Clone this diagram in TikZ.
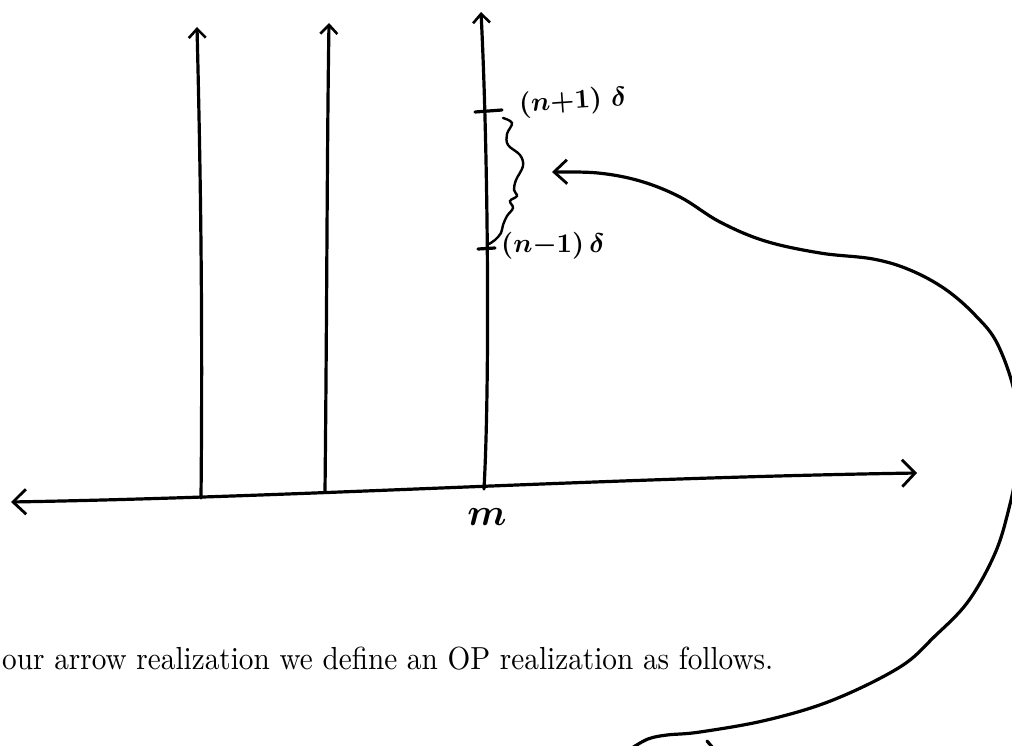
\documentclass[tikz,border=0pt]{standalone}
\usetikzlibrary{arrows.meta}
\begin{document}
\begin{tikzpicture}[x=1pt,y=-1pt,
  ink/.style={line width=3.2pt,line cap=round,line join=round},
  smalltip/.style={-{Straight Barb[length=9pt,width=17pt,line width=2.6pt]}},
  bigtip/.style={{Straight Barb[length=13pt,width=25pt,line width=2.8pt]}-{Straight Barb[length=13pt,width=27pt,line width=2.8pt]}},
  curvetip/.style={-{Straight Barb[length=13pt,width=24pt,line width=2.8pt]}},
  hand/.style={inner sep=0pt}]
\useasboundingbox (0,0) rectangle (1012,746);
\clip (0,0) rectangle (1012,746);
\fill[white] (0,0) rectangle (1012,746);

% horizontal axis
\coordinate (L) at (11,502);
\coordinate (R) at (917,473);
\draw[ink,bigtip] (L) .. controls (300,497) and (600,478) .. (R);

% vertical lines
\coordinate (b1) at (201,498); \coordinate (t1) at (197,27);
\coordinate (b2) at (325,492); \coordinate (t2) at (329,23);
\coordinate (b3) at (484,489); \coordinate (t3) at (481,12);
\draw[ink,smalltip] (b1) .. controls (203,300) and (200,150) .. (t1);
\draw[ink,smalltip] (b2) .. controls (327,300) and (327,150) .. (t2);
\draw[ink,smalltip] (b3) .. controls (490,380) and (488,150) .. (t3);

% ticks
\coordinate (p1a) at (475,112); \coordinate (p1b) at (502,110);
\coordinate (p2a) at (478,249); \coordinate (p2b) at (495,248);
\draw[ink] (p1a) -- (p1b);
\draw[ink] (p2a) -- (p2b);

% squiggle
\draw[line width=2.4pt,line cap=round] plot[smooth,tension=0.6] coordinates {
 (503,118) (512,123) (507,134) (508,145) (520,155) (523,166) (516,180)
 (514,190) (517,196) (510,201) (513,208) (507,216) (503,225) (501,233)
 (495,240) (489,244)};

% labels
\node[hand,anchor=west,rotate=4] (lab1) at (519,106) {\scalebox{2.7}{\boldmath$(n{+}1)\ \delta$}};
\node[hand,anchor=west] (lab2) at (501,246) {\scalebox{2.7}{\boldmath$(n{-}1)\,\delta$}};
\node[hand] (m) at (487,517) {\scalebox{3.8}{\boldmath$m$}};

% long curved arrow
\coordinate (cs) at (632,748);
\coordinate (ce) at (552,172);
\draw[ink,curvetip] plot[smooth,tension=0.6] coordinates {
 (cs) (648,739) (667,735) (700,732) (767,720) (833,700) (900,667) (935,636)
 (967,603) (992,560) (1006,520) (1018,460) (1016,400) (998,345) (975,315)
 (945,289) (910,270) (873,259) (820,253) (765,241) (720,222) (680,197)
 (640,181) (598,173) (ce)};

% small stroke at the bottom edge
\coordinate (s1) at (707,741); \coordinate (s2) at (713,748);
\draw[ink] (s1) -- (s2);

% text line
\node[anchor=base west,inner sep=0pt] (txt) at (2,669)
 {\resizebox{771pt}{22.5pt}{our arrow realization we define an OP realization as follows.}};
\end{tikzpicture}
\end{document}
